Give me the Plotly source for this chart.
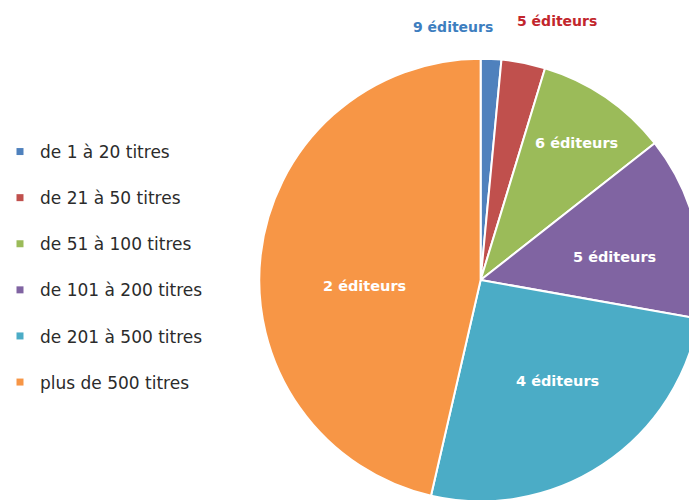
import plotly.graph_objects as go

# Share of titles by publisher size class
categories = ["de 1 à 20 titres", "de 21 à 50 titres", "de 51 à 100 titres",
              "de 101 à 200 titres", "de 201 à 500 titres", "plus de 500 titres"]
shares = [1.5, 3.2, 9.7, 13.4, 25.8, 46.4]
publishers = [9, 5, 6, 5, 4, 2]
colors = ["#4f81bd", "#c0504d", "#9bbb59", "#8064a2", "#4bacc6", "#f79646"]

W, H = 702, 502
R = 222
CX, CY = 480, 280

# Pixel anchor of each slice label (first two sit above the pie)
label_px = [(452, 27), (557, 21), (576, 143), (614, 257), (557, 381), (364, 286)]
label_colors = ["#3d7ebf", "#c2262c", "white", "white", "white", "white"]

fig = go.Figure()
fig.add_trace(go.Pie(
    labels=categories,
    values=shares,
    sort=False,
    direction="clockwise",
    rotation=0,
    marker=dict(colors=colors, line=dict(color="white", width=2)),
    textinfo="none",
    showlegend=False,
    hoverinfo="label+value",
    domain=dict(x=[(CX - R) / W, (CX + R) / W], y=[(H - CY - R) / H, (H - CY + R) / H]),
))

# Legend entries drawn as square markers
for name, col in zip(categories, colors):
    fig.add_trace(go.Scatter(
        x=[None], y=[None], mode="markers", name=name,
        marker=dict(symbol="square", size=7, color=col),
        legendgroup=name, showlegend=True,
    ))

for n, (px, py), col in zip(publishers, label_px, label_colors):
    fig.add_annotation(
        x=px / W, y=1 - py / H, xref="paper", yref="paper",
        text=f"{n} éditeurs", showarrow=False,
        xanchor="center", yanchor="middle",
        font=dict(family="DejaVu Sans", size=14 if col != "white" else 14.5,
                  color=col, weight="bold"),
    )

fig.update_layout(
    width=W, height=H,
    margin=dict(l=0, r=0, t=0, b=0),
    paper_bgcolor="white", plot_bgcolor="white",
    xaxis=dict(visible=False), yaxis=dict(visible=False),
    legend=dict(x=-2.5 / W, y=1 - 134 / H, xanchor="left", yanchor="top",
                font=dict(family="DejaVu Sans", size=17, color="#2b2b2b"),
                tracegroupgap=21, itemwidth=30, bgcolor="rgba(0,0,0,0)"),
)

fig.write_html("out.html", post_script=(
    "document.body.style.margin='0';"
    "document.body.style.overflow='hidden';"
    "document.documentElement.style.overflow='hidden';"
))
